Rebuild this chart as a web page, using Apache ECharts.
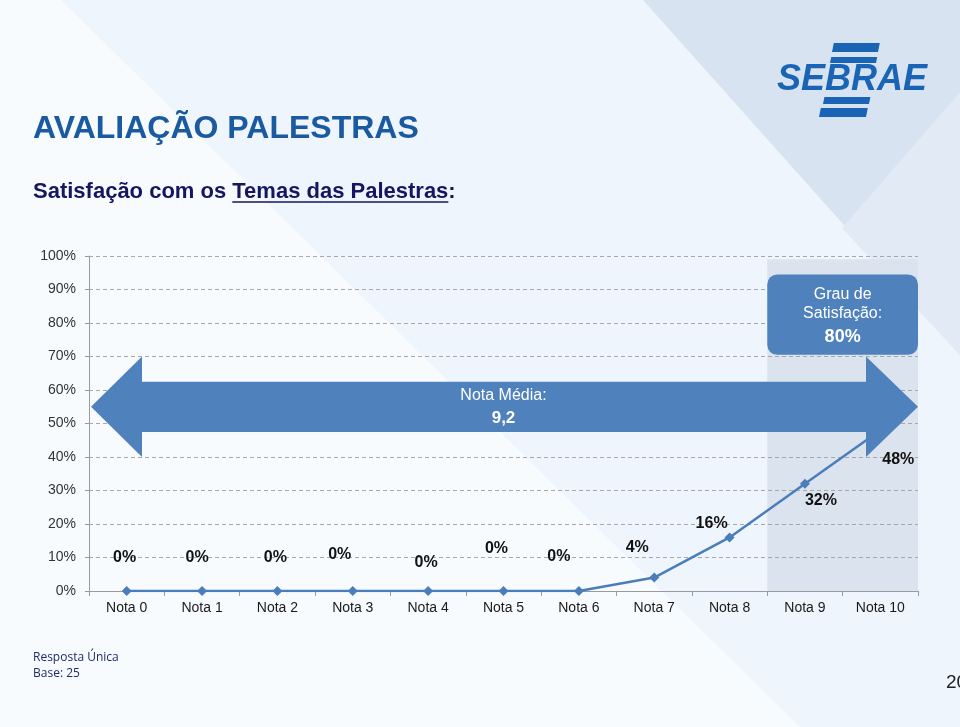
<!DOCTYPE html>
<html>
<head>
<meta charset="utf-8">
<script src="https://cdn.jsdelivr.net/npm/echarts@6/dist/echarts.min.js"></script>
<style>
html,body{margin:0;padding:0;background:#eef5fc;}
#chart{width:960px;height:727px;}
</style>
</head>
<body>
<div id="chart"></div>
<script>
const categories = ['Nota 0','Nota 1','Nota 2','Nota 3','Nota 4','Nota 5','Nota 6','Nota 7','Nota 8','Nota 9','Nota 10'];
const values = [0, 0, 0, 0, 0, 0, 0, 4, 16, 32, 48];
const yMax = 100;
const yStep = 10;
const titleText = 'AVALIAÇÃO PALESTRAS';
const subtitlePre = 'Satisfação com os ';
const subtitleUnder = 'Temas das Palestras';
const subtitlePost = ':';
const averageLabel = ['Nota Média:', '9,2'];
const satisfactionLabel = ['Grau de', 'Satisfação:', '80%'];
const footnote = ['Resposta Única', 'Base: 25'];
const pageNumber = '20';

const FONT = "'Liberation Sans', Arial, sans-serif";
const SUB_FONT = 'bold 22px ' + FONT;
const labelOffsets = [[-2,-33],[-5,-33],[-2,-33],[-13,-36],[-2,-28],[-7,-42],[-20,-34],[-17,-30],[-18,-14],[16,17],[18,29]];

const chart = echarts.init(document.getElementById('chart'), null, {renderer:'canvas'});

chart.setOption({
  backgroundColor: '#eef5fc',
  animation: false,
  grid: {left: 89, right: 42, top: 256, bottom: 136, containLabel: false},
  xAxis: {
    type: 'category',
    data: categories,
    boundaryGap: true,
    axisLine: {lineStyle: {color: '#9a9a9a', width: 1}},
    axisTick: {show: true, length: 5, lineStyle: {color: '#9a9a9a'}},
    axisLabel: {color: '#1a1a1a', fontSize: 14, fontFamily: FONT, margin: 10},
    splitLine: {show: false}
  },
  yAxis: {
    type: 'value',
    min: 0, max: yMax, interval: yStep,
    axisLine: {show: true, lineStyle: {color: '#9a9a9a', width: 1}},
    axisTick: {show: true, length: 4, lineStyle: {color: '#9a9a9a'}},
    axisLabel: {formatter: '{value}%', color: '#333', fontSize: 14, fontFamily: FONT, margin: 13},
    splitLine: {show: true, lineStyle: {color: '#a8a8a8', type: [4, 3], width: 1}}
  },
  series: [{
    type: 'line',
    z: 3,
    data: values.map((v, i) => ({
      value: v,
      label: {offset: labelOffsets[i]}
    })),
    lineStyle: {color: '#4a7ebb', width: 2.5},
    itemStyle: {color: '#4a7ebb'},
    symbol: 'diamond',
    symbolSize: 10,
    label: {
      show: true,
      position: 'inside',
      formatter: p => p.value + '%',
      color: '#111',
      fontSize: 16,
      fontWeight: 'bold',
      fontFamily: FONT
    }
  }]
});

const xp = i => chart.convertToPixel({xAxisIndex: 0}, categories[i]);
const yp = v => chart.convertToPixel({yAxisIndex: 0}, v);
const band = xp(1) - xp(0);
const plotL = xp(0) - band / 2;
const plotR = xp(categories.length - 1) + band / 2;
const shadeL = xp(9) - band / 2;
const midX = (plotL + plotR) / 2;
const boxCx = (shadeL + plotR) / 2;

const ctx = document.createElement('canvas').getContext('2d');
ctx.font = SUB_FONT;
const subX = 33;
const ulStart = subX + ctx.measureText(subtitlePre).width;
const ulEnd = ulStart + ctx.measureText(subtitleUnder).width;

const arrowPts = [
  [plotL + 2, yp(55)],
  [plotL + 53, yp(70)],
  [plotL + 53, yp(62.5)],
  [plotR - 52, yp(62.5)],
  [plotR - 52, yp(70)],
  [plotR, yp(55)],
  [plotR - 52, yp(40)],
  [plotR - 52, yp(47.5)],
  [plotL + 53, yp(47.5)],
  [plotL + 53, yp(40)]
];

function skewBar(x, y, w, h) {
  const s = 0.2;
  return {type: 'polygon', z: 20, shape: {points: [[x + s*h, y], [x + w + s*h, y], [x + w, y + h], [x, y + h]]}, style: {fill: '#1a64b6'}};
}

chart.setOption({
  graphic: [
    {type: 'polygon', z: -20, silent: true, shape: {points: [[0,0],[61,0],[800,727],[0,727]]}, style: {fill: '#f8fbfe'}},
    {type: 'polygon', z: -19, silent: true, shape: {points: [[643,0],[960,0],[960,355]]}, style: {fill: '#d7e3f0'}},
    {type: 'polygon', z: -18, silent: true, shape: {points: [[842,228],[960,92],[960,355]]}, style: {fill: '#e1eaf5'}},
    {type: 'rect', z: -5, silent: true, shape: {x: shadeL, y: yp(99), width: plotR - shadeL, height: yp(0) - yp(99)}, style: {fill: '#dbe3ee'}},
    {type: 'polygon', z: 10, shape: {points: arrowPts}, style: {fill: '#4f81bd'}},
    {type: 'rect', z: 10, shape: {x: shadeL, y: yp(94.5), width: plotR - shadeL, height: yp(70.5) - yp(94.5), r: 10}, style: {fill: '#4f81bd'}},
    {type: 'text', z: 11, x: midX, y: yp(58.3), style: {text: averageLabel[0], fill: '#fff', font: '16px ' + FONT, align: 'center', verticalAlign: 'middle'}},
    {type: 'text', z: 11, x: midX, y: yp(51.4), style: {text: averageLabel[1], fill: '#fff', font: 'bold 17px ' + FONT, align: 'center', verticalAlign: 'middle'}},
    {type: 'text', z: 11, x: boxCx, y: yp(88.6), style: {text: satisfactionLabel[0], fill: '#fff', font: '16px ' + FONT, align: 'center', verticalAlign: 'middle'}},
    {type: 'text', z: 11, x: boxCx, y: yp(82.7), style: {text: satisfactionLabel[1], fill: '#fff', font: '16px ' + FONT, align: 'center', verticalAlign: 'middle'}},
    {type: 'text', z: 11, x: boxCx, y: yp(75.8), style: {text: satisfactionLabel[2], fill: '#fff', font: 'bold 18px ' + FONT, align: 'center', verticalAlign: 'middle'}},
    {type: 'text', z: 20, x: 33, y: 129, style: {text: titleText, fill: '#1a5aa0', font: 'bold 32px ' + FONT, align: 'left', verticalAlign: 'middle'}},
    {type: 'text', z: 20, x: subX, y: 192, style: {text: subtitlePre + subtitleUnder + subtitlePost, fill: '#151560', font: SUB_FONT, align: 'left', verticalAlign: 'middle'}},
    {type: 'line', z: 20, shape: {x1: ulStart, y1: 202, x2: ulEnd, y2: 202}, style: {stroke: '#151560', lineWidth: 1.5}},
    {type: 'text', z: 20, x: 33, y: 658, style: {text: footnote[0], fill: '#1f2a6e', font: "12px 'Liberation Sans Narrow', 'Open Sans', sans-serif", align: 'left', verticalAlign: 'middle'}},
    {type: 'text', z: 20, x: 33, y: 674, style: {text: footnote[1], fill: '#1f2a6e', font: "12px 'Liberation Sans Narrow', 'Open Sans', sans-serif", align: 'left', verticalAlign: 'middle'}},
    {type: 'text', z: 20, x: 946, y: 683, style: {text: pageNumber, fill: '#222', font: '19px ' + FONT, align: 'left', verticalAlign: 'middle'}},
    skewBar(832, 43, 46, 9),
    skewBar(830, 57, 46, 6),
    skewBar(823, 97, 46, 7),
    skewBar(819, 108, 47, 9),
    {type: 'text', z: 21, x: 777, y: 80, style: {text: 'SEBRAE', fill: '#1a64b6', font: 'italic bold 36px ' + FONT, align: 'left', verticalAlign: 'middle'}}
  ]
});
</script>
</body>
</html>
